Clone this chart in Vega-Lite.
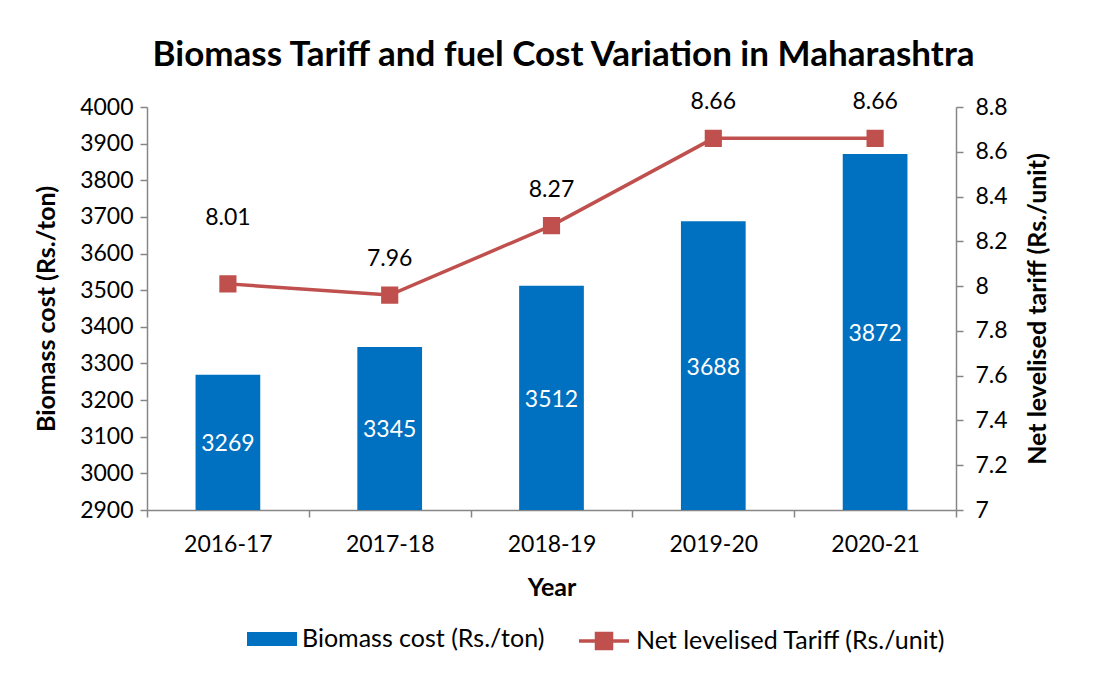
{
  "$schema": "https://vega.github.io/schema/vega-lite/v6.json",
  "width": 809,
  "height": 403,
  "autosize": {"type": "none"},
  "padding": {"left": 147, "top": 107, "right": 152, "bottom": 164},
  "background": "white",
  "config": {
    "font": "Lato",
    "view": {"stroke": null},
    "axis": {
      "domainColor": "#868686",
      "tickColor": "#868686",
      "domainWidth": 1.5,
      "tickWidth": 1.5,
      "tickSize": 7,
      "labelFont": "Lato",
      "labelFontSize": 23,
      "labelColor": "black",
      "labelOverlap": false,
      "labelFlush": false,
      "titleFont": "Lato",
      "titleFontSize": 25,
      "titleFontWeight": "bold",
      "titleColor": "black",
      "grid": false
    },
    "legend": {
      "labelFont": "Lato",
      "labelFontSize": 25,
      "labelColor": "black",
      "labelLimit": 0
    }
  },
  "title": {
    "text": "Biomass Tariff and fuel Cost Variation in Maharashtra",
    "font": "Lato",
    "fontSize": 35,
    "fontWeight": "bold",
    "color": "black",
    "anchor": "middle",
    "baseline": "alphabetic",
    "offset": -10,
    "dx": 12
  },
  "data": {
    "values": [
      {"year": "2016-17", "cost": 3269, "tariff": 8.01},
      {"year": "2017-18", "cost": 3345, "tariff": 7.96},
      {"year": "2018-19", "cost": 3512, "tariff": 8.27},
      {"year": "2019-20", "cost": 3688, "tariff": 8.66},
      {"year": "2020-21", "cost": 3872, "tariff": 8.66}
    ]
  },
  "encoding": {
    "x": {
      "field": "year",
      "type": "nominal",
      "sort": null,
      "scale": {"paddingInner": 0, "paddingOuter": 0},
      "axis": {
        "title": "Year",
        "labelAngle": 0,
        "tickBand": "extent",
        "labelPadding": 16,
        "titlePadding": 19
      }
    }
  },
  "layer": [
    {
      "layer": [
        {
          "mark": {"type": "bar", "width": {"band": 0.4}},
          "encoding": {
            "y": {
              "field": "cost",
              "type": "quantitative",
              "scale": {"domain": [2900, 4000], "zero": false, "nice": false},
              "axis": {"title": "Biomass cost (Rs./ton)", "format": "d", "values": [2900,3000,3100,3200,3300,3400,3500,3600,3700,3800,3900,4000], "labelOverlap": false, "labelPadding": 7, "titlePadding": 20}
            },
            "y2": {"datum": 2900},
            "fill": {
              "datum": "Biomass cost (Rs./ton)",
              "type": "nominal",
              "scale": {"range": ["#0070C0"]},
              "legend": {
                "title": null,
                "orient": "none",
                "legendX": 100,
                "legendY": 507,
                "symbolType": "M-1,-0.28H1V0.28H-1Z",
                "symbolSize": 2500,
                "symbolStrokeWidth": 0,
                "symbolOpacity": 1,
                "labelOffset": 5
              }
            }
          }
        },
        {
          "transform": [{"calculate": "(datum.cost + 2900) / 2", "as": "mid"}],
          "mark": {"type": "text", "color": "white", "fontSize": 23, "font": "Lato", "baseline": "middle", "dy": 2},
          "encoding": {
            "y": {
              "field": "mid",
              "type": "quantitative",
              "axis": {"title": "Biomass cost (Rs./ton)", "format": "d", "values": [2900,3000,3100,3200,3300,3400,3500,3600,3700,3800,3900,4000], "labelOverlap": false, "labelPadding": 7, "titlePadding": 20}
            },
            "text": {"field": "cost", "type": "quantitative", "format": "d"}
          }
        }
      ]
    },
    {
      "layer": [
        {
          "mark": {
            "type": "line",
            "color": "#C0504D",
            "strokeWidth": 3.5,
            "point": {"shape": "square", "size": 230, "filled": true, "color": "#C0504D", "opacity": 1}
          },
          "encoding": {
            "y": {
              "field": "tariff",
              "type": "quantitative",
              "scale": {"domain": [7, 8.8], "zero": false, "nice": false},
              "axis": {"orient": "right", "title": "Net levelised tariff (Rs./unit)", "format": ".1~f", "titleAngle": 270, "titleBaseline": "top", "values": [7,7.2,7.4,7.6,7.8,8,8.2,8.4,8.6,8.8], "labelPadding": 12, "titlePadding": 18}
            },
            "stroke": {
              "datum": "Net levelised Tariff (Rs./unit)",
              "type": "nominal",
              "scale": {"range": ["#C0504D"]},
              "legend": {
                "title": null,
                "orient": "none",
                "legendX": 430,
                "legendY": 507,
                "symbolType": "M-1,0H1M-0.3,-0.3H0.3V0.3H-0.3Z",
                "symbolSize": 2500,
                "symbolStrokeWidth": 3.5,
                "symbolFillColor": "#C0504D",
                "symbolStrokeColor": "#C0504D",
                "labelOffset": 5
              }
            }
          }
        },
        {
          "transform": [{"filter": "datum.year != '2016-17'"}],
          "mark": {"type": "text", "color": "black", "fontSize": 23, "font": "Lato", "baseline": "middle", "dy": -36},
          "encoding": {
            "y": {"field": "tariff", "type": "quantitative"},
            "text": {"field": "tariff", "type": "quantitative", "format": ".2f"}
          }
        },
        {
          "transform": [{"filter": "datum.year == '2016-17'"}],
          "mark": {"type": "text", "color": "black", "fontSize": 23, "font": "Lato", "baseline": "middle", "dy": -66},
          "encoding": {
            "y": {"field": "tariff", "type": "quantitative"},
            "text": {"field": "tariff", "type": "quantitative", "format": ".2f"}
          }
        }
      ]
    }
  ],
  "resolve": {"scale": {"y": "independent", "fill": "independent", "stroke": "independent"}}
}
